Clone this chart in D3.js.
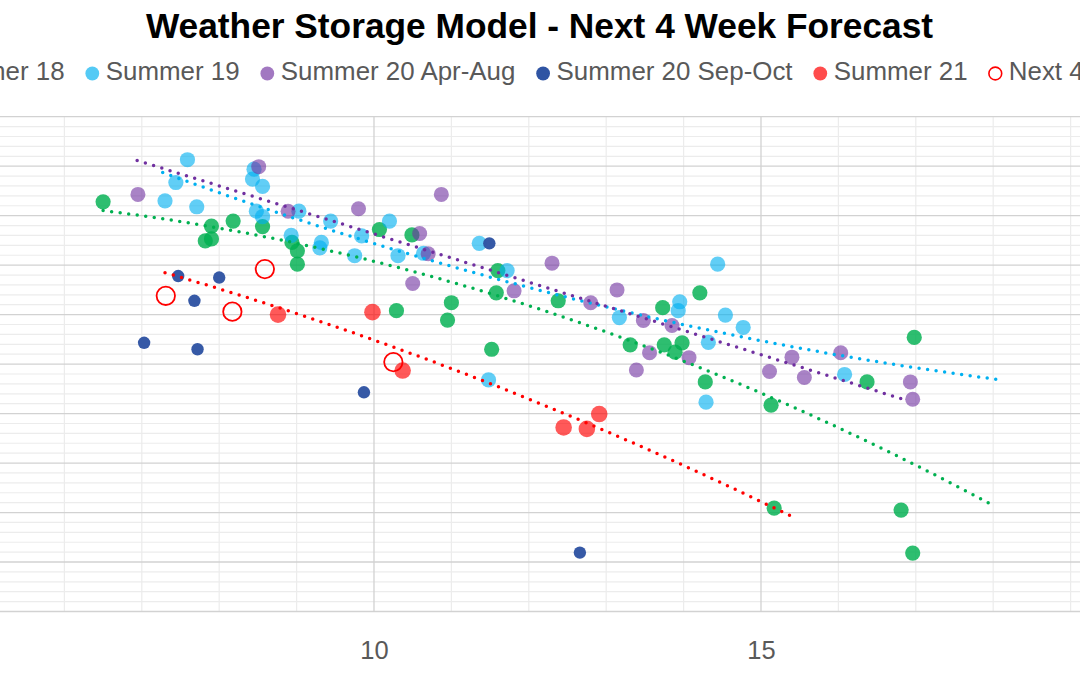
<!DOCTYPE html>
<html><head><meta charset="utf-8">
<script src="https://cdn.jsdelivr.net/npm/d3@7"></script>
<style>html,body{margin:0;padding:0;background:#fff;overflow:hidden}</style>
</head><body><svg id="chart" width="1080" height="675"></svg>
<script>
// ---------- DATA ----------
const chartTitle = "Weather Storage Model - Next 4 Week Forecast";
const seriesNames = ["Summer 18", "Summer 19", "Summer 20 Apr-Aug", "Summer 20 Sep-Oct", "Summer 21", "Next 4 Weeks"];
const xMajorTicks = [5, 10, 15, 20];
const xTickLabels = [10, 15];

const summer18 = [
  [6.50,82.8],[7.90,77.9],[8.18,78.9],[8.56,77.8],[7.82,74.9],[7.90,75.3],[8.94,74.6],[9.01,72.9],[9.01,70.2],
  [10.07,77.2],[10.49,76.1],[10.29,60.8],[11.00,62.4],[10.95,58.9],[11.60,68.9],[11.58,64.4],[11.52,53.0],
  [12.38,62.8],[13.73,61.4],[14.21,64.4],[13.31,53.9],[13.75,53.9],[13.89,52.4],[13.98,54.3],[14.28,46.4],
  [16.98,55.4],[16.37,46.4],[15.13,41.7],[15.17,20.9],[16.81,20.5],[16.96,11.8]
];
const summer19 = [
  [7.59,91.3],[7.44,86.7],[7.30,83.0],[7.71,81.8],[8.45,89.4],[8.43,87.4],[8.56,85.9],[8.48,80.9],[8.56,79.8],
  [9.03,80.9],[8.93,76.0],[9.32,74.6],[9.30,73.5],[9.44,78.9],[9.75,71.9],[9.84,75.9],[10.20,78.9],[10.31,71.9],
  [10.64,72.4],[11.36,74.4],[11.72,68.9],[11.48,46.8],[13.17,59.4],[13.95,62.6],[13.93,60.8],[14.44,70.2],
  [14.54,59.9],[14.77,57.4],[14.32,54.4],[14.29,42.3],[16.08,47.9]
];
const summer20AprAug = [
  [6.95,84.3],[8.51,89.9],[8.89,80.9],[9.80,81.4],[10.87,84.3],[10.59,76.4],[10.70,72.3],[10.50,66.3],
  [11.81,64.8],[12.30,70.4],[12.80,62.4],[13.14,65.0],[13.48,58.8],[13.85,57.8],[13.56,52.3],[13.39,48.8],
  [14.07,51.3],[15.11,48.5],[15.40,51.4],[15.56,47.3],[16.03,52.3],[16.93,46.4],[16.96,42.9]
];
const summer20SepOct = [
  [7.47,67.8],[8.00,67.5],[7.68,62.8],[7.03,54.3],[7.72,53.0],[9.87,44.3],[11.49,74.4],[12.66,11.9]
];
const summer21 = [
  [8.76,60.0],[9.98,60.5],[10.37,48.7],[12.45,37.2],[12.75,36.9],[12.91,39.9]
];
const next4Weeks = [
  [7.31,63.8],[8.17,60.6],[8.59,69.2],[10.25,50.4]
];

// trendline positions (polynomial trendlines)
const trendSummer18 = [[6.50,82.4],[7.75,77.7],[9.04,73.1],[10.30,68.6],[11.50,64.0],[12.79,57.9],[13.99,51.5],[14.99,45.1],[15.98,38.0],[17.02,29.5],[17.96,20.5]];
const trendSummer19 = [[7.27,88.6],[8.18,83.5],[9.04,79.7],[10.25,73.1],[11.50,67.3],[12.79,62.3],[13.99,57.9],[15.25,54.2],[16.54,50.5],[18.05,46.8]];
const trendSummer20 = [[6.94,91.1],[8.18,85.2],[9.47,78.9],[10.25,75.1],[11.50,69.0],[12.79,62.8],[13.95,57.0],[15.25,50.6],[16.54,44.2],[16.91,42.7]];
const trendSummer21 = [[7.30,68.6],[8.10,64.5],[9.21,59.3],[10.08,54.3],[11.50,46.1],[12.53,39.7],[13.01,36.3],[14.38,26.6],[15.41,19.2]];

// ---------- CHART ----------
const svg = d3.select("#chart");
const FONT = "'Liberation Sans', Arial, sans-serif";
const x = d3.scaleLinear().domain([5, 20]).range([374 - 5 * 77.4, 374 + 10 * 77.4]);
const y = d3.scaleLinear().domain([0, 100]).range([611.5, 116.7]);

// gridlines
const grid = svg.append("g");
const xMinor = d3.range(5, 21, 1).filter(v => v % 5 !== 0);
const yMinor = d3.range(0, 101, 2).filter(v => v % 10 !== 0);
const yMajor = d3.range(0, 101, 10);
grid.selectAll(".ymin").data(yMinor).join("line")
  .attr("x1", x(5)).attr("x2", x(20)).attr("y1", d => y(d)).attr("y2", d => y(d))
  .attr("stroke", "#ececec").attr("stroke-width", 1.2);
grid.selectAll(".xmin").data(xMinor).join("line")
  .attr("x1", d => x(d)).attr("x2", d => x(d)).attr("y1", y(0)).attr("y2", y(100))
  .attr("stroke", "#ececec").attr("stroke-width", 1.2);
grid.selectAll(".ymaj").data(yMajor).join("line")
  .attr("x1", x(5)).attr("x2", x(20)).attr("y1", d => y(d)).attr("y2", d => y(d))
  .attr("stroke", "#d2d2d2").attr("stroke-width", 1.3);
grid.selectAll(".xmaj").data(xMajorTicks).join("line")
  .attr("x1", d => x(d)).attr("x2", d => x(d)).attr("y1", y(0)).attr("y2", y(100))
  .attr("stroke", "#d2d2d2").attr("stroke-width", 1.3);

// x axis labels
const xAxis = d3.axisBottom(x).tickValues(xTickLabels).tickSize(0).tickFormat(d3.format("d"));
const ax = svg.append("g").attr("transform", `translate(0,${y(0)})`).call(xAxis);
ax.select(".domain").remove();
ax.selectAll("text").attr("y", 47.5).attr("dy", 0)
  .attr("font-family", FONT).attr("font-size", 25.5).attr("fill", "#595959");

// series styles
const styles = [
  {data: summer18, fill: "#00B050", op: 0.82, r: 7.6, trend: trendSummer18, tcol: "#00B050"},
  {data: summer19, fill: "#00B0F0", op: 0.62, r: 7.6, trend: trendSummer19, tcol: "#00B0F0"},
  {data: summer20AprAug, fill: "#7030A0", op: 0.6, r: 7.5, trend: trendSummer20, tcol: "#7030A0"},
  {data: summer20SepOct, fill: "#2F54A3", op: 0.97, r: 6.2, trend: null},
  {data: summer21, fill: "#FF0000", op: 0.65, r: 8.3, trend: trendSummer21, tcol: "#FF0000"},
  {data: next4Weeks, fill: "none", stroke: "#FF0000", op: 1, r: 9.2, trend: null}
];

const pts = svg.append("g");
styles.forEach(s => {
  pts.append("g").selectAll("circle").data(s.data).join("circle")
    .attr("cx", d => x(d[0])).attr("cy", d => y(d[1])).attr("r", s.r)
    .attr("fill", s.fill).attr("fill-opacity", s.fill === "none" ? null : s.op)
    .attr("stroke", s.stroke || "none").attr("stroke-width", s.stroke ? 1.8 : 0);
});

// quadratic least-squares trend through read trendline positions
function quadFit(p) {
  let S = [0,0,0,0,0], T = [0,0,0];
  p.forEach(([a, b]) => {
    let pw = 1;
    for (let k = 0; k < 5; k++) { S[k] += pw; if (k < 3) T[k] += pw * b; pw *= a; }
  });
  const M = [[S[0],S[1],S[2],T[0]],[S[1],S[2],S[3],T[1]],[S[2],S[3],S[4],T[2]]];
  for (let i = 0; i < 3; i++) {
    for (let j = i + 1; j < 3; j++) {
      const f = M[j][i] / M[i][i];
      for (let k = i; k < 4; k++) M[j][k] -= f * M[i][k];
    }
  }
  const c = [0,0,0];
  for (let i = 2; i >= 0; i--) {
    let s = M[i][3];
    for (let k = i + 1; k < 3; k++) s -= M[i][k] * c[k];
    c[i] = s / M[i][i];
  }
  return v => c[0] + c[1] * v + c[2] * v * v;
}
const line = d3.line().x(d => x(d[0])).y(d => y(d[1]));
const trends = svg.append("g");
styles.filter(s => s.trend).forEach(s => {
  const f = quadFit(s.trend);
  const x0 = s.trend[0][0], x1 = s.trend[s.trend.length - 1][0];
  const samples = d3.range(0, 61).map(i => { const v = x0 + (x1 - x0) * i / 60; return [v, f(v)]; });
  trends.append("path").datum(samples).attr("d", line)
    .attr("fill", "none").attr("stroke", s.tcol).attr("stroke-width", 3.5)
    .attr("stroke-linecap", "round").attr("stroke-dasharray", "0 8.6");
});

// title
svg.append("text").attr("x", 539.5).attr("y", 38).attr("text-anchor", "middle")
  .attr("font-family", FONT).attr("font-weight", "bold").attr("font-size", 35.3)
  .attr("fill", "#000").text(chartTitle);

// legend
const leg = svg.append("g");
const legItems = seriesNames.map((n, i) => ({name: n, s: styles[i]}));
let cursor = 0;
const placed = [];
legItems.forEach(it => {
  const g = leg.append("g");
  const t = g.append("text").attr("font-family", FONT).attr("font-size", 25.9)
    .attr("fill", "#595959").attr("y", 80).text(it.name);
  const w = t.node().getComputedTextLength();
  placed.push({g, t, w, cx: cursor, it});
  cursor += 13.5 + w + 27.7;
});
const shift = 92.3 - placed[1].cx;
placed.forEach(p => {
  const cx = p.cx + shift;
  p.t.attr("x", cx + 13.5);
  const s = p.it.s;
  p.g.append("circle").attr("cx", cx).attr("cy", 73.5)
    .attr("r", s.fill === "none" ? 6.4 : 6.9)
    .attr("fill", s.fill).attr("fill-opacity", s.fill === "none" ? null : Math.min(1, s.op + 0.05))
    .attr("stroke", s.stroke || "none").attr("stroke-width", s.stroke ? 1.6 : 0);
});
</script></body></html>
